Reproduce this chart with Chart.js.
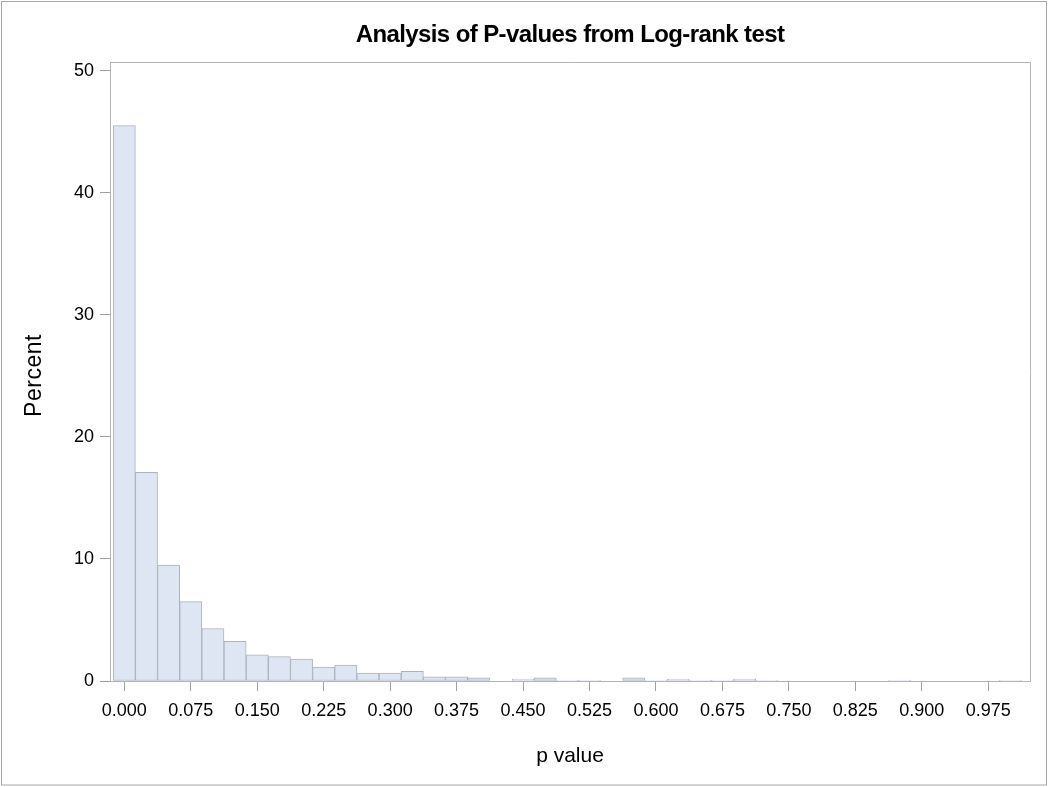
<!DOCTYPE html>
<html>
<head>
<meta charset="utf-8">
<title>Analysis of P-values from Log-rank test</title>
<script src="https://cdn.jsdelivr.net/npm/chart.js@4"></script>
<style>
    html, body { margin: 0; padding: 0; background: #fff; }
    #wrap { width: 1050px; height: 787px; }
</style>
</head>
<body>
<div id="wrap"><canvas id="histChart" width="1050" height="787"></canvas></div>
<script>
// Bin midpoints (bin width 0.025)
const binMids = [
    0.000, 0.025, 0.050, 0.075, 0.100, 0.125, 0.150, 0.175, 0.200, 0.225,
    0.250, 0.275, 0.300, 0.325, 0.350, 0.375, 0.400, 0.425, 0.450, 0.475,
    0.500, 0.525, 0.550, 0.575, 0.600, 0.625, 0.650, 0.675, 0.700, 0.725,
    0.750, 0.775, 0.800, 0.825, 0.850, 0.875, 0.900, 0.925, 0.950, 0.975,
    1.000
];
// Percent of p-values falling in each bin
const percents = [
    45.5, 17.1, 9.5, 6.5, 4.3, 3.25, 2.15, 2.0, 1.8, 1.15,
    1.3, 0.65, 0.65, 0.8, 0.35, 0.35, 0.25, 0, 0.15, 0.25,
    0.05, 0.05, 0, 0.25, 0.05, 0.15, 0.05, 0.05, 0.15, 0.05,
    0, 0, 0, 0, 0, 0.05, 0, 0, 0, 0,
    0.05
];
const xTicks = [0.000, 0.075, 0.150, 0.225, 0.300, 0.375, 0.450, 0.525, 0.600, 0.675, 0.750, 0.825, 0.900, 0.975];
const yTicks = [0, 10, 20, 30, 40, 50];

const chartTitle = 'Analysis of P-values from Log-rank test';
const xTitle = 'p value';
const yTitle = 'Percent';

const FONT = "'Liberation Sans', Arial, Helvetica, sans-serif";
const frameColor = '#b3b3b3';

// frame, outer border and text drawn straight on the canvas
const decorPlugin = {
    id: 'decor',
    afterDraw(chart) {
        const ctx = chart.ctx;
        const a = chart.chartArea;
        ctx.save();
        // top + right side of the plot frame
        ctx.strokeStyle = frameColor;
        ctx.lineWidth = 1;
        ctx.beginPath();
        ctx.moveTo(a.left, a.top + 0.5);
        ctx.lineTo(a.right + 0.5, a.top + 0.5);
        ctx.lineTo(a.right + 0.5, a.bottom);
        ctx.stroke();
        // outer border of the graph
        ctx.strokeStyle = '#a8a8a8';
        ctx.strokeRect(1.5, 1.5, 1045, 783.5);

        ctx.fillStyle = '#000';
        // title
        ctx.font = 'bold 24px ' + FONT;
        ctx.letterSpacing = '-0.6px';
        ctx.textAlign = 'center';
        ctx.textBaseline = 'alphabetic';
        ctx.fillText(chartTitle, (a.left + a.right) / 2, 42);
        // x axis title
        ctx.font = '21px ' + FONT;
        ctx.letterSpacing = '0px';
        ctx.fillText(xTitle, (a.left + a.right) / 2, 762);
        // y axis title
        ctx.translate(41, (a.top + a.bottom) / 2 + 4);
        ctx.rotate(-Math.PI / 2);
        ctx.font = '23px ' + FONT;
        ctx.letterSpacing = '0.5px';
        ctx.fillText(yTitle, 0, 0);
        ctx.restore();
    }
};

const ctx = document.getElementById('histChart').getContext('2d');
new Chart(ctx, {
    type: 'bar',
    data: {
        datasets: [{
            label: yTitle,
            data: binMids.map((m, i) => ({ x: m, y: percents[i] })),
            backgroundColor: 'rgb(221, 230, 242)',
            borderColor: '#aab3bf',
            borderWidth: 1,
            borderSkipped: false,
            categoryPercentage: 1.0,
            barPercentage: 1.0
        }]
    },
    options: {
        responsive: false,
        animation: false,
        layout: { padding: { left: 0, top: 62, right: 20, bottom: 0 } },
        plugins: {
            legend: { display: false },
            title: { display: false },
            tooltip: { enabled: false }
        },
        scales: {
            x: {
                type: 'linear',
                min: -0.01614,
                max: 1.0221,
                offset: false,
                afterBuildTicks: s => { s.ticks = xTicks.map(v => ({ value: v })); },
                afterFit: s => { s.height = 106; },
                grid: {
                    offset: false,
                    drawOnChartArea: false,
                    drawTicks: true,
                    tickLength: 10,
                    tickColor: '#a0a0a0'
                },
                border: { display: true, color: frameColor },
                ticks: {
                    autoSkip: false,
                    maxRotation: 0,
                    padding: 9,
                    color: '#000',
                    font: { family: FONT, size: 18 },
                    callback: v => Number(v).toFixed(3)
                }
            },
            y: {
                min: 0,
                max: 50.71,
                afterBuildTicks: s => { s.ticks = yTicks.map(v => ({ value: v })); },
                afterFit: s => { s.width = 110; },
                grid: {
                    drawOnChartArea: false,
                    drawTicks: true,
                    tickLength: 10,
                    tickColor: '#a0a0a0'
                },
                border: { display: true, color: frameColor },
                ticks: {
                    padding: 6,
                    color: '#000',
                    font: { family: FONT, size: 18 }
                }
            }
        }
    },
    plugins: [decorPlugin]
});
</script>
</body>
</html>
